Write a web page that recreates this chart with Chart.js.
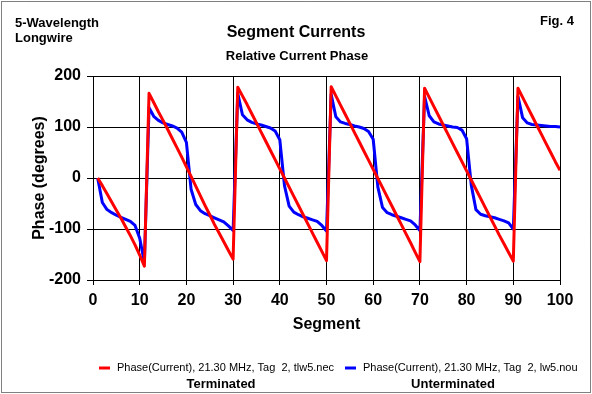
<!DOCTYPE html>
<html>
<head>
<meta charset="utf-8">
<title>Segment Currents</title>
<script src="https://cdn.jsdelivr.net/npm/chart.js@4.4.1/dist/chart.umd.min.js"></script>
<style>
  html, body { margin: 0; padding: 0; background: #fff; }
  #wrap { width: 592px; height: 394px; }
</style>
</head>
<body>
<div id="wrap"><canvas id="phaseChart" width="592" height="394"></canvas></div>
<script>
// segment numbers along the wire (1..100)
const segments = Array.from({ length: 100 }, (_, i) => i + 1);

// terminated wire (tlw5.nec), phase in degrees
const terminatedPhase = [
  0, -15, -31, -47, -63, -79, -96, -113, -131, -151,
  -173, 166, 148, 130, 113, 95, 77, 59, 41, 22,
  3, -16, -35, -54, -72, -91, -108, -125, -142, -159,
  178, 161, 144, 126, 108, 90, 72, 54, 36, 18,
  0, -18, -36, -54, -72, -90, -108, -126, -144, -162,
  179, 161, 143, 125, 107, 89, 71, 53, 35, 17,
  -1, -19, -37, -55, -73, -91, -109, -127, -146, -164,
  176, 158, 140, 122, 104, 86, 68, 50, 32, 14,
  -4, -22, -40, -58, -76, -94, -112, -129, -146, -163,
  176, 158, 140, 122, 104, 86, 68, 50, 32, 15
];

// unterminated wire (lw5.nou)
const unterminatedPhase = [
  0, -48, -62, -68, -73, -77, -81, -85, -93, -118,
  -165, 138, 121, 113, 108, 105, 102, 98, 90, 70,
  -22, -52, -64, -70, -74, -78, -82, -86, -94, -103,
  166, 124, 114, 109, 106, 104, 101, 98, 92, 75,
  -15, -55, -67, -72, -76, -79, -82, -85, -93, -104,
  164, 120, 110, 107, 105, 102, 100, 97, 91, 76,
  -18, -58, -68, -72, -75, -78, -81, -84, -92, -103,
  160, 122, 110, 106, 104, 102, 100, 99, 94, 77,
  -14, -62, -71, -74, -76, -78, -81, -84, -88, -100,
  160, 118, 108, 105, 104, 103, 102, 101, 101, 100
];

const xTicks = [0, 10, 20, 30, 40, 50, 60, 70, 80, 90, 100];
const yTicks = [-200, -100, 0, 100, 200];

const seriesNames = [
  'Phase(Current), 21.30 MHz, Tag  2, tlw5.nec',
  'Phase(Current), 21.30 MHz, Tag  2, lw5.nou'
];
const seriesColors = ['#ff0000', '#0000ff'];

const FONT = '"Liberation Sans", Arial, sans-serif';

// titles, axis titles, legend and the dotted frame
const textPlugin = {
  id: 'textPlugin',
  beforeDraw(chart) {
    const c = chart.ctx;
    c.save();
    c.fillStyle = '#fff';
    c.fillRect(0, 0, chart.width, chart.height);
    c.restore();
  },
  afterDraw(chart) {
    const c = chart.ctx;
    const area = chart.chartArea;
    c.save();
    c.fillStyle = '#000';
    c.textBaseline = 'middle';

    c.font = 'bold 13px ' + FONT;
    c.textAlign = 'left';
    c.fillText('5-Wavelength', 15, 23);
    c.fillText('Longwire', 15, 38);
    c.textAlign = 'right';
    c.fillText('Fig. 4', 574, 21);

    c.textAlign = 'center';
    c.font = 'bold 16px ' + FONT;
    c.fillText('Segment Currents', 296, 33);
    c.font = 'bold 13px ' + FONT;
    c.fillText('Relative Current Phase', 297, 56);

    // axis titles
    c.font = 'bold 16px ' + FONT;
    c.fillText('Segment', (area.left + area.right) / 2, 325);
    c.save();
    c.translate(40, (area.top + area.bottom) / 2);
    c.rotate(-Math.PI / 2);
    c.fillText('Phase (degrees)', 0, 0);
    c.restore();

    // legend
    const legendY = 368;
    const legendX = [[99, 117], [345, 363]];
    c.font = '11px ' + FONT;
    c.textAlign = 'left';
    seriesNames.forEach((name, i) => {
      c.strokeStyle = seriesColors[i];
      c.lineWidth = 3;
      c.beginPath();
      c.moveTo(legendX[i][0], legendY);
      c.lineTo(legendX[i][0] + 11, legendY);
      c.stroke();
      c.fillText(name, legendX[i][1], legendY);
    });

    c.font = 'bold 13px ' + FONT;
    c.textAlign = 'center';
    c.fillText('Terminated', 221, 384);
    c.fillText('Unterminated', 453, 384);

    // dotted frame
    c.strokeStyle = '#000';
    c.lineWidth = 1;
    c.setLineDash([1, 1]);
    c.strokeRect(1.5, 1.5, chart.width - 3, chart.height - 3);
    c.restore();
  }
};

const ctx = document.getElementById('phaseChart').getContext('2d');
const phaseChart = new Chart(ctx, {
  type: 'line',
  data: {
    datasets: [
      {
        label: seriesNames[0],
        data: segments.map((s, i) => ({ x: s, y: terminatedPhase[i] })),
        borderColor: seriesColors[0],
        borderWidth: 3,
        borderJoinStyle: 'round',
        pointRadius: 0,
        tension: 0
      },
      {
        label: seriesNames[1],
        data: segments.map((s, i) => ({ x: s, y: unterminatedPhase[i] })),
        borderColor: seriesColors[1],
        borderWidth: 3,
        borderJoinStyle: 'round',
        pointRadius: 0,
        tension: 0
      }
    ]
  },
  options: {
    responsive: false,
    animation: false,
    layout: { padding: { top: 76, right: 32, left: 0, bottom: 0 } },
    plugins: {
      legend: { display: false },
      tooltip: { enabled: false }
    },
    scales: {
      x: {
        type: 'linear',
        min: 0,
        max: 100,
        afterBuildTicks: (scale) => { scale.ticks = xTicks.map(v => ({ value: v })); },
        afterFit: (scale) => { scale.height = 114; },
        ticks: { color: '#000', font: { family: FONT, size: 16, weight: 'bold' }, padding: 6, maxRotation: 0 },
        grid: { color: '#000', lineWidth: 1, tickLength: 5 },
        border: { color: '#000', width: 1 }
      },
      y: {
        type: 'linear',
        min: -200,
        max: 200,
        afterBuildTicks: (scale) => { scale.ticks = yTicks.map(v => ({ value: v })); },
        afterFit: (scale) => { scale.width = 93; },
        ticks: { color: '#000', font: { family: FONT, size: 16, weight: 'bold' }, padding: 6 },
        grid: { color: '#000', lineWidth: 1, tickLength: 6 },
        border: { color: '#000', width: 1 }
      }
    }
  },
  plugins: [textPlugin]
});
</script>
</body>
</html>
